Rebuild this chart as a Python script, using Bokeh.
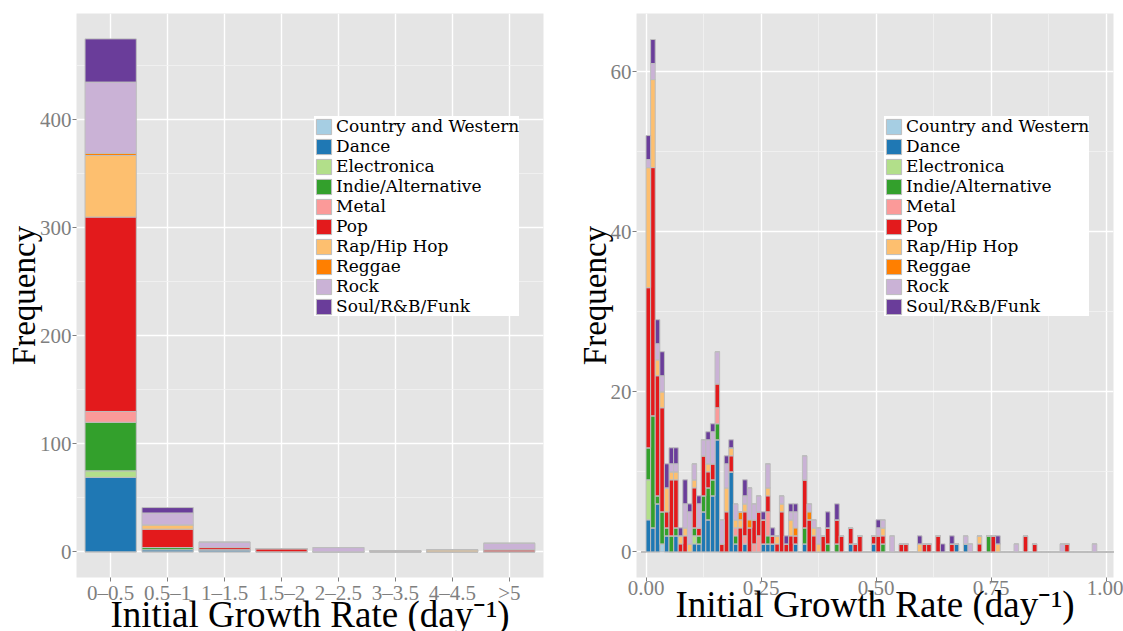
from bokeh.plotting import figure
from bokeh.layouts import row
from bokeh.models import (ColumnDataSource, FactorRange, Range1d, FixedTicker,
                          Legend, LegendItem)
from bokeh.embed import file_html
from bokeh.resources import INLINE

genres = ["Country and Western", "Dance", "Electronica", "Indie/Alternative",
          "Metal", "Pop", "Rap/Hip Hop", "Reggae", "Rock", "Soul/R&B/Funk"]
colors = ["#a6cee3", "#1f78b4", "#b2df8a", "#33a02c", "#fb9a99",
          "#e31a1c", "#fdbf6f", "#ff7f00", "#cab2d6", "#6a3d9a"]
x_title = "Initial Growth Rate (day⁻¹)"
y_title = "Frequency"

# ---------------- left panel: binned initial growth rate ----------------
rate_bins = ["0–0.5", "0.5–1", "1–1.5", "1.5–2", "2–2.5", "3–3.5", "4–4.5", ">5"]
left_country = [0, 0, 0, 0, 0, 0, 0, 0]
left_dance = [69, 2, 2, 0, 0, 0, 0, 0]
left_electronica = [6, 0, 0, 0, 0, 0, 0, 0]
left_indie = [45, 2, 0, 0, 0, 0, 0, 0]
left_metal = [10, 0, 0, 0, 0, 1, 0, 0]
left_pop = [180, 17, 2, 3, 0, 0, 0, 2]
left_rap = [57, 4, 0, 0, 0, 0, 2, 0]
left_reggae = [2, 0, 0, 0, 0, 0, 0, 0]
left_rock = [66, 11, 5, 0, 4, 0, 0, 6]
left_soul = [40, 5, 0, 0, 0, 0, 0, 0]
left_counts = [left_country, left_dance, left_electronica, left_indie, left_metal,
               left_pop, left_rap, left_reggae, left_rock, left_soul]

# ---------------- right panel: histogram, bin width 0.01 ----------------
bin_width = 0.01
first_bin, last_bin = -1, 101   # bin index i covers [i*0.01, (i+1)*0.01)
r_country = {3: 1}
r_dance = {0: 4, 1: 3, 2: 6, 4: 2, 6: 2, 10: 1, 11: 1, 12: 5, 13: 4, 14: 7, 15: 14,
           18: 10, 19: 1, 21: 1, 25: 1, 26: 1, 27: 1, 32: 1, 34: 1, 44: 1, 49: 1,
           67: 1, 69: 1}
r_electronica = {0: 5, 10: 1}
r_indie = {0: 4, 1: 14, 2: 1, 3: 4, 4: 1, 5: 2, 6: 1, 10: 1, 11: 1, 12: 2, 13: 4,
           14: 2, 15: 2, 19: 1, 26: 1, 34: 2, 39: 1, 41: 1, 51: 1, 74: 2}
r_metal = {15: 2, 19: 1, 21: 1, 23: 1, 24: 2, 26: 3}
r_pop = {0: 20, 1: 31, 2: 15, 3: 13, 4: 2, 5: 7, 6: 6, 7: 1, 8: 2, 10: 5, 11: 1,
         12: 5, 13: 2, 14: 2, 15: 3, 16: 1, 17: 5, 18: 2, 20: 3, 21: 3, 22: 3,
         23: 3, 24: 3, 25: 3, 26: 2, 27: 1, 28: 1, 29: 5, 30: 1, 31: 2, 32: 1,
         34: 6, 35: 4, 36: 2, 38: 2, 39: 2, 41: 3, 42: 2, 44: 2, 45: 1, 46: 2,
         49: 1, 50: 2, 51: 1, 55: 1, 56: 1, 60: 1, 61: 1, 63: 2, 66: 1, 72: 1,
         75: 2, 82: 2, 84: 1, 91: 1}
r_rap = {0: 15, 1: 11, 2: 2, 3: 2, 4: 3, 5: 1, 6: 1, 7: 1, 8: 1, 9: 1, 10: 1,
         13: 1, 17: 3, 18: 1, 19: 1, 20: 1, 21: 1, 26: 1, 28: 1, 29: 1, 31: 2,
         36: 1, 37: 1, 51: 1, 59: 1, 72: 1, 76: 1}
r_reggae = {20: 1, 22: 1, 32: 1, 35: 1}
r_rock = {0: 1, 1: 2, 2: 2, 3: 2, 5: 1, 6: 1, 8: 3, 9: 4, 10: 2, 11: 3, 12: 2,
          13: 3, 14: 4, 15: 4, 16: 3, 17: 3, 19: 2, 21: 1, 22: 4, 23: 2, 24: 2,
          26: 3, 29: 1, 31: 1, 32: 2, 34: 3, 35: 1, 36: 1, 37: 2, 50: 1, 51: 1,
          53: 2, 69: 1, 70: 1, 80: 1, 90: 1, 97: 1}
r_soul = {0: 3, 1: 3, 2: 3, 3: 3, 4: 3, 5: 2, 6: 2, 7: 1, 8: 3, 9: 1, 11: 1,
          13: 1, 14: 1, 17: 1, 18: 1, 21: 2, 25: 1, 27: 1, 30: 1, 31: 1, 32: 1,
          39: 2, 41: 2, 50: 1, 59: 1, 64: 1, 66: 1, 76: 1}
right_counts = [r_country, r_dance, r_electronica, r_indie, r_metal,
                r_pop, r_rap, r_reggae, r_rock, r_soul]

FONT = "Liberation Serif"
LEGEND_FONT = "DejaVu Serif"
OUTLINE = "#bdbdbd"
FIG_H = 646          # frame spans y = 13..577; the space below is the axis area
BORDER_BOTTOM = FIG_H - 577


def style(p):
    p.background_fill_color = "#e5e5e5"
    p.border_fill_color = "white"
    p.outline_line_color = None
    for ax in (p.xaxis[0], p.yaxis[0]):
        ax.axis_line_color = None
        ax.major_tick_line_color = "#7f7f7f"
        ax.major_tick_line_width = 1
        ax.major_tick_in = 0
        ax.major_tick_out = 4
        ax.minor_tick_line_color = None
        ax.major_label_text_color = "#7f7f7f"
        ax.major_label_text_font = FONT
        ax.major_label_text_font_size = "21px"
        ax.axis_label_text_font = FONT
        ax.axis_label_text_font_style = "normal"
        ax.axis_label_text_color = "black"
    p.xaxis.axis_label = x_title
    p.yaxis.axis_label = y_title
    p.xaxis.major_label_standoff = -1
    p.yaxis.major_label_standoff = 1
    p.xaxis.axis_label_text_font_size = "37px"
    p.yaxis.axis_label_text_font_size = "33px"
    p.xaxis.axis_label_standoff = -14
    p.yaxis.axis_label_standoff = -5
    for g in (p.xgrid[0], p.ygrid[0]):
        g.grid_line_color = "white"
        g.grid_line_width = 1.4
        g.minor_grid_line_color = "#f2f2f2"
        g.minor_grid_line_width = 0.8


def add_legend(p, renderers, loc):
    items = [LegendItem(label=g, renderers=[r]) for g, r in zip(genres, renderers)]
    lg = Legend(items=items, location=loc)
    lg.background_fill_color = "white"
    lg.background_fill_alpha = 1.0
    lg.border_line_color = None
    lg.padding = 5
    lg.margin = 0
    lg.spacing = 0
    lg.glyph_width = 19
    lg.glyph_height = 19
    lg.label_height = 19
    lg.label_standoff = 3
    lg.label_text_font = LEGEND_FONT
    lg.label_text_font_size = "17px"
    lg.label_text_color = "black"
    p.add_layout(lg)


# ---------------- left figure ----------------
left_src = {"cat": rate_bins}
for g, vals in zip(genres, left_counts):
    left_src[g] = vals
left_src = ColumnDataSource(left_src)

p1 = figure(width=560, height=FIG_H,
            x_range=FactorRange(factors=rate_bins, range_padding=0.1,
                                range_padding_units="absolute"),
            y_range=Range1d(-23.75, 498.5),
            output_backend="svg", toolbar_location=None,
            min_border_left=76, min_border_right=17,
            min_border_top=13, min_border_bottom=BORDER_BOTTOM)
r1 = p1.vbar_stack(genres, x="cat", width=0.9, source=left_src,
                   fill_color=colors, line_color=OUTLINE, line_width=1)
style(p1)
yt1 = FixedTicker(ticks=[0, 100, 200, 300, 400], minor_ticks=[50, 150, 250, 350, 450])
p1.yaxis.ticker = yt1
p1.ygrid.ticker = yt1
p1.xgrid.minor_grid_line_color = None
add_legend(p1, r1, (238, 261))

# ---------------- right figure ----------------
bin_ids = list(range(first_bin, last_bin + 1))
right_src = {"x": [(i + 0.5) * bin_width for i in bin_ids]}
for g, d in zip(genres, right_counts):
    right_src[g] = [d.get(i, 0) for i in bin_ids]
right_src = ColumnDataSource(right_src)

p2 = figure(width=563, height=FIG_H,
            x_range=Range1d(-0.0207, 1.0163),
            y_range=Range1d(-3.2, 67.25),
            output_backend="svg", toolbar_location=None,
            min_border_left=76, min_border_right=10,
            min_border_top=13, min_border_bottom=BORDER_BOTTOM)
r2 = p2.vbar_stack(genres, x="x", width=bin_width, source=right_src,
                   fill_color=colors, line_color=OUTLINE, line_width=1)
style(p2)
xt2 = FixedTicker(ticks=[0, 0.25, 0.5, 0.75, 1.0],
                  minor_ticks=[0.125, 0.375, 0.625, 0.875])
yt2 = FixedTicker(ticks=[0, 20, 40, 60], minor_ticks=[10, 30, 50])
p2.xaxis.ticker = xt2
p2.xgrid.ticker = xt2
p2.yaxis.ticker = yt2
p2.ygrid.ticker = yt2
p2.xaxis.major_label_overrides = {0: "0.00", 0.25: "0.25", 0.5: "0.50",
                                  0.75: "0.75", 1.0: "1.00"}
add_legend(p2, r2, (248, 261))

layout = row(p1, p2)
open("out.html", "w").write(file_html(layout, INLINE))
